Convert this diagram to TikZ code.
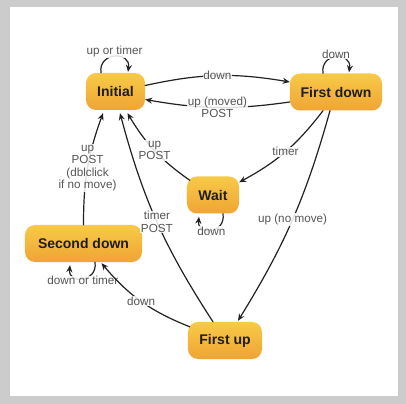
\documentclass[tikz,border=0pt]{standalone}
\usepackage{fontspec}
\setmainfont{Liberation Sans}
\usepackage{xcolor}
\usepackage{tikz}
\usetikzlibrary{calc,arrows.meta}
\definecolor{frame}{HTML}{CCCCCC}
\definecolor{statetop}{HTML}{F7CA48}
\definecolor{statebot}{HTML}{EFA434}
\definecolor{ink}{HTML}{1E1E1E}
\definecolor{edge}{HTML}{222222}
\definecolor{labtext}{HTML}{555555}
\tikzset{
  state/.style={rectangle, rounded corners=10bp, top color=statetop, bottom color=statebot,
    draw=none, text=ink, font=\fontsize{14bp}{16bp}\selectfont\bfseries,
    minimum height=37bp, inner sep=0pt},
  trans/.style={draw=edge, line width=1.2bp, line cap=round, -{Stealth[length=7bp,width=6bp]}},
  lab/.style={text=labtext, font=\fontsize{11.7bp}{12.3bp}\selectfont, fill=white,
    fill opacity=0.85, text opacity=1, inner sep=0.8bp, align=center},
}

\begin{document}
\begin{tikzpicture}[x=1bp,y=1bp]
  \fill[frame] (0,0) rectangle (406,404);
  \fill[white] (10,8) rectangle (398,397);

  \node[state, minimum width=59bp] (ini) at (115.5,312.5) {Initial};
  \node[state, minimum width=92bp] (fd) at (336,312) {First down};
  \node[state, minimum width=52bp] (wait) at (213,209) {Wait};
  \node[state, minimum width=117bp] (sd) at (83.5,160.5) {Second down};
  \node[state, minimum width=74bp] (fu) at (225,63.5) {First up};

  % self loops
  \draw[trans] ($(ini.north)+(-14.5,0)$) .. controls +(-3,21) and +(3,21) .. ($(ini.north)+(12.5,1)$)
    node[lab,midway,yshift=5] {up or timer};
  \draw[trans] ($(fd.north)+(-13,0)$) .. controls +(-3,21) and +(3,21) .. ($(fd.north)+(13,1)$)
    node[lab,midway,yshift=3] {down};
  \draw[trans] ($(wait.south)+(10,0)$) .. controls +(3,-20) and +(-2,-20) .. ($(wait.south)+(-14,-3)$)
    node[lab,midway,yshift=-1] {down};
  \draw[trans] ($(sd.south)+(11.5,0)$) .. controls +(3,-20) and +(-2,-20) .. ($(sd.south)+(-13.5,-3)$)
    node[lab,midway,yshift=-2] {down or timer};

  % initial <-> first down
  \draw[trans] ($(ini.east)+(0,6)$) to[bend left=11] node[lab,midway] {down} ($(fd.west)+(0,10)$);
  \draw[trans] ($(fd.west)+(0,-10)$) to[bend left=9] node[lab,midway] {up (moved)\\POST} ($(ini.east)+(0,-8)$);

  % via wait
  \draw[trans] ($(fd.south)+(-13,0)$) to[bend left=12] node[lab,midway] {timer} ($(wait.north east)+(0,-6)$);
  \draw[trans] ($(wait.north west)+(3,-4)$) to[bend left=12] node[lab,midway] {up\\POST} ($(ini.south)+(12,-3)$);

  % via first up
  \draw[trans] ($(fd.south)+(-6,0)$) to[bend left=8] node[lab,midway] {up (no move)} ($(fu.north)+(13,1)$);
  \draw[trans] ($(fu.north)+(-12,0)$) to[bend left=9] node[lab,midway] {timer\\POST} ($(ini.south)+(4.5,-3)$);
  \draw[trans] ($(fu.north west)+(2,-5)$) to[bend left=14] node[lab,midway] {down} ($(sd.south)+(18,-1)$);

  % second down back to initial
  \draw[trans] (sd.north) to[out=90,in=-110] node[lab,midway] {up\\POST\\(dblclick\\if no move)} ($(ini.south)+(-12.5,-3)$);
\end{tikzpicture}
\end{document}
